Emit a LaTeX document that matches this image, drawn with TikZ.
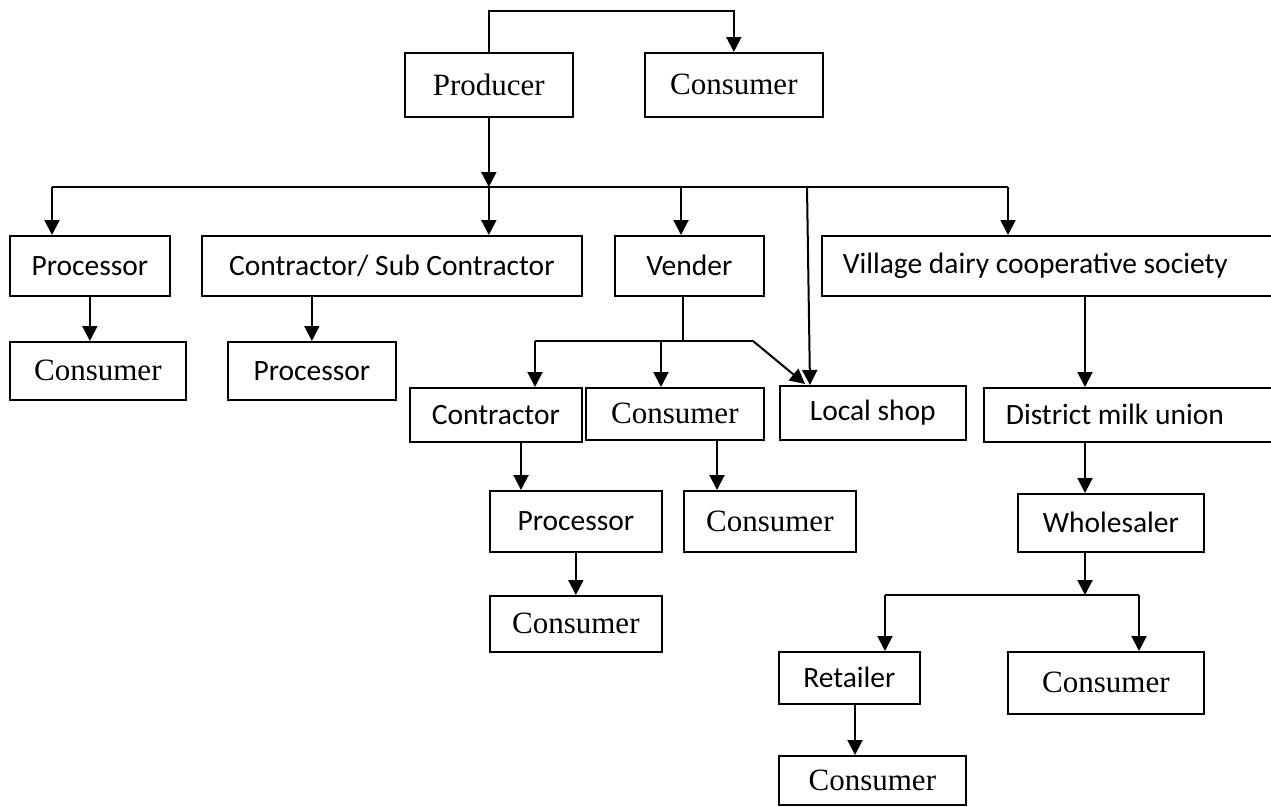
\documentclass[tikz,border=0pt]{standalone}
\usepackage{fontspec}
\setmainfont{Liberation Serif}
\newfontfamily\calibri{Carlito}
\usetikzlibrary{arrows.meta}

\begin{document}
\begin{tikzpicture}[
      x=1pt, y=-1pt,
      box/.style={draw, line width=1.7pt, anchor=north west, inner sep=0pt},
      tnr/.style={box, font=\fontsize{31}{35}\selectfont},
      cal/.style={box, font=\calibri\fontsize{29.5}{33}\selectfont},
      wire/.style={line width=2pt},
      arr/.style={wire, -{Triangle[width=15pt,length=15pt]}}]
    \useasboundingbox (0,0) rectangle (1271,806);
    \clip (0,0) rectangle (1271,806);
    \node[tnr, minimum width=168pt, minimum height=64pt] (producer) at (404,52) {Producer};
    \node[tnr, minimum width=178pt, minimum height=64pt] (consTop) at (644,52) {Consumer};
    \node[cal, minimum width=160pt, minimum height=60pt] (proc1) at (9,235) {Processor};
    \node[cal, minimum width=380pt, minimum height=60pt] (csub) at (201,235) {Contractor/ Sub Contractor};
    \node[cal, minimum width=149pt, minimum height=60pt] (vender) at (614,235) {Vender};
    \node[cal, minimum height=60pt, inner xsep=21pt] (village) at (821,235) {\makebox[413pt][l]{Village dairy cooperative society}};
    \node[tnr, minimum width=176pt, minimum height=58pt] (consProc) at (9,341) {Consumer};
    \node[cal, minimum width=168pt, minimum height=58pt] (proc2) at (227,341) {Processor};
    \node[cal, minimum width=172pt, minimum height=54pt] (contr) at (409,387) {Contractor};
    \node[tnr, minimum width=178pt, minimum height=52pt] (consVend) at (585,387) {Consumer};
    \node[cal, minimum width=186pt, minimum height=54pt] (shop) at (779,385) {Local shop};
    \node[cal, minimum height=54pt, inner xsep=22pt] (district) at (983,387) {\makebox[249pt][l]{District milk union}};
    \node[cal, minimum width=172pt, minimum height=61pt] (proc3) at (489,490) {Processor};
    \node[tnr, minimum width=172pt, minimum height=61pt] (consVend2) at (683,490) {Consumer};
    \node[cal, minimum width=186pt, minimum height=58pt] (whole) at (1017,493) {Wholesaler};
    \node[tnr, minimum width=172pt, minimum height=56pt] (consContr) at (489,595) {Consumer};
    \node[cal, minimum width=141pt, minimum height=52pt] (retail) at (778,651) {Retailer};
    \node[tnr, minimum width=196pt, minimum height=62pt] (consWhole) at (1007,651) {Consumer};
    \node[tnr, minimum width=187pt, minimum height=49pt] (consRetail) at (778,755) {Consumer};

    \coordinate (top) at (0,11);
    \coordinate (bus) at (489,187);
    \coordinate (b1) at (52,187);
    \coordinate (b3) at (681,187);
    \coordinate (b4) at (807,187);
    \coordinate (b5) at (1008,187);
    \coordinate (shopTop) at (810,385);
    \coordinate (vbus) at (683,341);
    \coordinate (v1) at (535,341);
    \coordinate (v2) at (661,341);
    \coordinate (vbend) at (753,341);
    \coordinate (vtip) at (805,384);
    \coordinate (c3) at (521,0);
    \coordinate (c4) at (717,0);
    \coordinate (d) at (1085,0);
    \coordinate (wbus) at (1085,595);
    \coordinate (w1) at (885,595);
    \coordinate (w2) at (1139,595);
    \coordinate (r) at (855,0);

    \draw[arr] (producer.north) |- (top -| consTop) -- (consTop.north);
    \draw[arr] (producer.south) -- (producer.south |- bus);
    \draw[wire] (b1) -- (b5);
    \draw[arr] (b1) -- (b1 |- proc1.north);
    \draw[arr] (producer.south |- bus) -- (producer.south |- csub.north);
    \draw[arr] (b3) -- (b3 |- vender.north);
    \draw[arr] (b4) -- (shopTop);
    \draw[arr] (b5) -- (b5 |- village.north);
    \draw[arr] (proc1.south) -- (proc1.south |- consProc.north);
    \draw[arr] (proc2.north |- csub.south) -- (proc2.north);
    \draw[wire] (vbus |- vender.south) -- (vbus);
    \draw[wire] (v1) -- (vbend);
    \draw[arr] (vbend) -- (vtip);
    \draw[arr] (v1) -- (v1 |- contr.north);
    \draw[arr] (v2) -- (v2 |- consVend.north);
    \draw[arr] (c3 |- contr.south) -- (c3 |- proc3.north);
    \draw[arr] (c4 |- consVend.south) -- (c4 |- consVend2.north);
    \draw[arr] (proc3.south) -- (proc3.south |- consContr.north);
    \draw[arr] (d |- village.south) -- (d |- district.north);
    \draw[arr] (d |- district.south) -- (d |- whole.north);
    \draw[arr] (d |- whole.south) -- (wbus);
    \draw[wire] (w1) -- (w2);
    \draw[arr] (w1) -- (w1 |- retail.north);
    \draw[arr] (w2) -- (w2 |- consWhole.north);
    \draw[arr] (r |- retail.south) -- (r |- consRetail.north);
\end{tikzpicture}
\end{document}
